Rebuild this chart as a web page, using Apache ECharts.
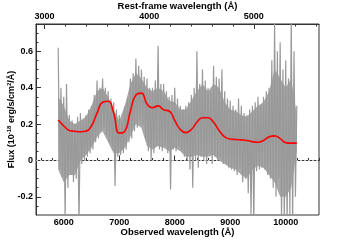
<!DOCTYPE html>
<html><head><meta charset="utf-8">
<script src="https://cdn.jsdelivr.net/npm/echarts@6/dist/echarts.min.js"></script>
<style>html,body{margin:0;padding:0;background:#fff}#c{width:355px;height:240px}</style>
</head><body><div id="c"></div>
<script>
// ---- data ----
const specStart = 5900, specStep = 25;
const specFlux = [
  0.62, -0.05, 0.40, -0.09,
  0.35, -0.32, 0.42, -0.15,
  0.25, -0.08, 0.22, -0.12,
  0.20, -0.10, 0.24, -0.35,
  0.26, -0.02, 0.22, 0.00,
  0.25, 0.02, 0.28, 0.04,
  0.30, 0.06, 0.36, 0.10,
  0.44, 0.12, 0.40, 0.16,
  0.45, 0.18, 0.40, 0.14,
  0.38, 0.10, 0.34, 0.06,
  0.32, -0.14, 0.28, 0.02,
  0.25, 0.03, 0.22, 0.04,
  0.30, 0.06, 0.34, 0.10,
  0.45, 0.12, 0.48, 0.16,
  0.56, 0.18, 0.52, 0.22,
  0.50, 0.20, 0.46, 0.12,
  0.45, 0.05, 0.40, 0.00,
  0.40, 0.04, 0.44, 0.08,
  0.63, 0.06, 0.42, 0.05,
  0.42, 0.08, 0.38, 0.04,
  0.35, -0.16, 0.36, 0.06,
  0.40, 0.05, 0.34, 0.08,
  0.30, 0.05, 0.28, 0.02,
  0.30, 0.00, 0.32, -0.05,
  0.36, -0.15, 0.40, 0.00,
  0.60, -0.04, 0.42, 0.02,
  0.50, 0.00, 0.44, -0.02,
  0.40, 0.04, 0.38, -0.02,
  0.52, 0.02, 0.46, 0.00,
  0.45, 0.02, 0.50, -0.02,
  0.38, -0.02, 0.34, -0.04,
  0.33, -0.05, 0.30, -0.06,
  0.28, -0.08, 0.34, -0.04,
  0.30, -0.12, 0.26, -0.10,
  0.25, -0.18, 0.28, -0.30,
  0.30, -0.35, 0.32, -0.06,
  0.35, -0.05, 0.30, -0.04,
  0.35, -0.05, 0.38, -0.08,
  0.40, -0.10, 0.55, -0.15,
  0.75, -0.20, 0.60, -0.10,
  0.65, -0.35, 0.50, -0.35,
  0.55, -0.35, 0.45, -0.30,
  0.78, -0.35, 0.60, -0.20,
  0.30
];
// dense core of the noisy spectrum (100 A steps, 5900..10200)
const coreStart = 5900, coreStep = 100;
const coreHigh = [0.35,0.30,0.22,0.20,0.22,0.24,0.30,0.38,0.40,0.35,0.28,0.22,0.30,0.42,0.48,0.45,0.40,0.38,0.40,0.38,0.33,0.32,0.28,0.28,0.33,0.38,0.42,0.38,0.42,0.40,0.32,0.28,0.27,0.25,0.24,0.27,0.30,0.32,0.38,0.50,0.45,0.40,0.45,0.25];
const coreLow  = [-0.05,-0.12,-0.08,-0.08,0.00,0.03,0.07,0.13,0.16,0.10,0.04,0.04,0.07,0.13,0.20,0.18,0.08,0.06,0.08,0.07,0.05,0.07,0.05,0.02,0.02,0.03,0.02,0.02,0.03,0.00,-0.02,-0.04,-0.05,-0.08,-0.10,-0.05,-0.03,-0.04,-0.08,-0.12,-0.20,-0.20,-0.15,0.05];
const smoothWl = [5900,6000,6100,6200,6300,6400,6500,6600,6700,6800,6900,7000,7100,7200,7300,7400,7500,7600,7700,7800,7900,8000,8100,8200,8300,8400,8500,8600,8700,8800,8900,9000,9100,9200,9300,9400,9500,9600,9700,9800,9900,10000,10100,10200];
const smoothFlux = [0.222,0.19,0.165,0.16,0.158,0.16,0.19,0.26,0.32,0.325,0.26,0.15,0.16,0.27,0.36,0.37,0.31,0.29,0.30,0.278,0.272,0.22,0.17,0.153,0.17,0.21,0.235,0.235,0.21,0.165,0.13,0.118,0.115,0.113,0.11,0.103,0.10,0.11,0.13,0.135,0.12,0.098,0.095,0.095];
const obsTicks = [6000,7000,8000,9000,10000];
const restTicks = [3000,4000,5000];
const fluxTicks = [-0.2,0,0.2,0.4,0.6];
const zeroLevel = 0;
const zPlus1 = 1.885;
const obsMin = 5500, obsMax = 10600, fluxMin = -0.3, fluxMax = 0.75;

// ---- build ----
const specData = specFlux.map((v,i)=>[specStart + i*specStep, v]);
const coreData = coreHigh.map((v,i)=>[coreStart + i*coreStep, coreLow[i], v]);
const smoothData = smoothWl.map((w,i)=>[w, smoothFlux[i]]);
const zeroData = [[obsMin, zeroLevel], [obsMax, zeroLevel]];
const restMin = obsMin/zPlus1, restMax = obsMax/zPlus1;
function minorList(a, b, step, majors){
  const out=[]; for(let v=a; v<=b+1e-9; v+=step){ const r=Math.round(v*1000)/1000; if(!majors.some(m=>Math.abs(m-r)<1e-6)) out.push(r);} return out;
}
const obsMinor = minorList(5600, obsMax, 200, obsTicks);
const restMinor = minorList(3000, restMax, 200, restTicks);
const fluxMinor = minorList(-0.25, fluxMax, 0.05, fluxTicks);

const FF = '"Liberation Sans", Arial, sans-serif';
const lab = {fontSize:9, fontWeight:'bold', fontFamily:FF, color:'#000'};
const lineC = '#333';
const plain = v => String(v);

const chart = echarts.init(document.getElementById('c'), null, {renderer:'canvas'});
chart.setOption({
  animation:false,
  backgroundColor:'#fff',
  grid:{left:36, right:36, top:24, bottom:25, outerBoundsMode:'none', containLabel:false,
        show:true, borderColor:lineC, borderWidth:1, backgroundColor:'transparent'},
  xAxis:[
    {type:'value', position:'bottom', min:obsMin, max:obsMax,
     name:'Observed wavelength (Å)', nameLocation:'middle', nameGap:12, nameMoveOverlap:false,
     nameTextStyle:Object.assign({}, lab, {fontSize:9.5}),
     axisLine:{show:true, lineStyle:{color:lineC}}, splitLine:{show:false},
     axisTick:{show:true, inside:true, length:5, customValues:obsTicks, lineStyle:{color:lineC}},
     axisLabel:Object.assign({customValues:obsTicks, margin:3, formatter:plain}, lab)},
    {type:'value', position:'bottom', min:obsMin, max:obsMax,
     axisLine:{show:false}, splitLine:{show:false}, axisLabel:{show:false},
     axisTick:{show:true, inside:true, length:2.5, customValues:obsMinor, lineStyle:{color:lineC}}},
    {type:'value', position:'top', min:restMin, max:restMax,
     name:'Rest-frame wavelength (Å)', nameLocation:'middle', nameGap:13, nameMoveOverlap:false,
     nameTextStyle:Object.assign({}, lab, {fontSize:9.5}),
     axisLine:{show:true, lineStyle:{color:lineC}}, splitLine:{show:false},
     axisTick:{show:true, inside:true, length:5, customValues:restTicks, lineStyle:{color:lineC}},
     axisLabel:Object.assign({customValues:restTicks, margin:3, formatter:plain}, lab)},
    {type:'value', position:'top', min:restMin, max:restMax,
     axisLine:{show:false}, splitLine:{show:false}, axisLabel:{show:false},
     axisTick:{show:true, inside:true, length:2.5, customValues:restMinor, lineStyle:{color:lineC}}}
  ],
  yAxis:[
    {type:'value', position:'left', min:fluxMin, max:fluxMax,
     name:'{a|Flux (10}{s|-18}{a| erg/s/cm}{s|2}{a|/Å)}', nameLocation:'middle', nameRotate:90, nameGap:18, nameMoveOverlap:false,
     nameTextStyle:{rich:{a:Object.assign({}, lab, {lineHeight:12}), s:Object.assign({}, lab, {fontSize:6, lineHeight:6, verticalAlign:'top'})}},
     axisLine:{show:true, lineStyle:{color:lineC}}, splitLine:{show:false},
     axisTick:{show:true, inside:true, length:5, customValues:fluxTicks, lineStyle:{color:lineC}},
     axisLabel:Object.assign({customValues:fluxTicks, margin:3, formatter:v=>String(Math.round(v*10)/10)}, lab)},
    {type:'value', position:'left', min:fluxMin, max:fluxMax,
     axisLine:{show:false}, splitLine:{show:false}, axisLabel:{show:false},
     axisTick:{show:true, inside:true, length:2.5, customValues:fluxMinor, lineStyle:{color:lineC}}}
  ],
  series:[
    {type:'line', xAxisIndex:0, yAxisIndex:0, data:zeroData, showSymbol:false, symbol:'none', silent:true,
     lineStyle:{color:'#c8c8c8', type:[2,2], width:1}, z:1},
    {type:'custom', xAxisIndex:0, yAxisIndex:0, data:coreData, z:2, silent:true,
     encode:{x:0, y:[1,2]},
     renderItem:function(params, api){
       if (params.dataIndex !== 0) return null;
       const top = coreData.map(d=>api.coord([d[0], d[2]]));
       const bot = coreData.slice().reverse().map(d=>api.coord([d[0], d[1]]));
       return {type:'polygon', shape:{points: top.concat(bot)}, style:{fill:'#a6a6a6', stroke:null}};
     }},
    {type:'line', xAxisIndex:0, yAxisIndex:0, data:specData, showSymbol:false, symbol:'none',
     lineStyle:{color:'#999', width:1.2}, z:3},
    {type:'line', xAxisIndex:0, yAxisIndex:0, data:smoothData, showSymbol:false, symbol:'none', smooth:0.5,
     lineStyle:{color:'#ff0000', width:1.6}, z:4}
  ]
});
</script></body></html>
